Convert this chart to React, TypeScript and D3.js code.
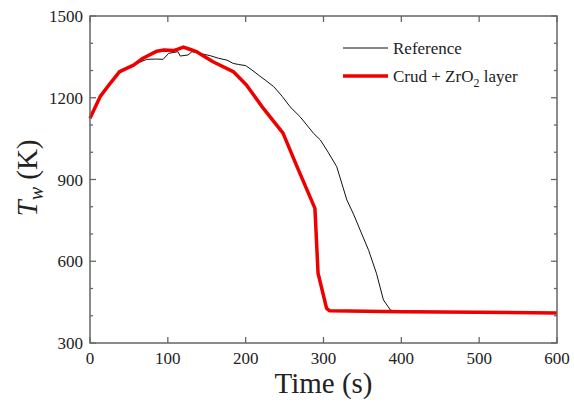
import React from "react"
import { scaleLinear, line, range } from "d3"

// Reference case: wall temperature (K) vs time (s)
const refTime = [0, 13, 26, 38, 50, 62, 73, 84, 94, 101, 113, 116, 126, 131, 144, 155, 165, 176, 184, 191, 200, 208, 218, 225, 236, 247, 257, 270, 287, 296, 306, 317, 330, 339, 347, 358, 368, 377, 386, 390, 500, 600]
const refTemp = [1125, 1204, 1250, 1290, 1312, 1328, 1341, 1342, 1341, 1363, 1369, 1353, 1357, 1369, 1361, 1354, 1345, 1338, 1326, 1322, 1318, 1302, 1280, 1265, 1241, 1205, 1167, 1130, 1070, 1045, 1000, 947, 825, 770, 715, 640, 556, 458, 421, 418, 414, 410]

// Crud + ZrO2 layer case
const crudTime = [0, 13, 26, 38, 56, 68, 86, 95, 107, 113, 120, 128, 137, 158, 184, 201, 223, 248, 266, 289, 293, 304, 308, 400, 500, 600]
const crudTemp = [1125, 1204, 1253, 1296, 1320, 1345, 1371, 1375, 1373, 1378, 1386, 1378, 1369, 1332, 1296, 1247, 1160, 1070, 947, 794, 556, 427, 418, 415, 413, 410]

const xTicks = [0, 100, 200, 300, 400, 500, 600]
const yTicks = [300, 600, 900, 1200, 1500]
const yMinor = range(300, 1501, 100).filter(v => v % 300 !== 0)

const font = "Liberation Serif, Times New Roman, serif"
const axisColor = "#666"

export default function App() {
	/** Chart dimensions */
	const width = 574
	const height = 403
	const left = 90
	const right = 557
	const top = 16
	const bottom = 343

	const xScale = scaleLinear().domain([0, 600]).range([left, right])
	const yScale = scaleLinear().domain([300, 1500]).range([bottom, top])

	/** build a path from paired time / temperature arrays */
	const path = (ts: number[], vs: number[]) =>
		line<number>()
			.x((_, i) => xScale(ts[i]))
			.y(d => yScale(d))(vs) ?? ""

	return (
		<svg width={width} height={height} style={{ position: "absolute", left: 0, top: 0, background: "#fff", fontFamily: font }}>
			{/* ticks, inward on all four sides */}
			<g stroke={axisColor} strokeWidth={1.3}>
				{xTicks.map(t => (
					<g key={"x" + t}>
						<line x1={xScale(t)} x2={xScale(t)} y1={bottom} y2={bottom - 6} />
						<line x1={xScale(t)} x2={xScale(t)} y1={top} y2={top + 6} />
					</g>
				))}
				{yTicks.map(t => (
					<g key={"y" + t}>
						<line x1={left} x2={left + 6} y1={yScale(t)} y2={yScale(t)} />
						<line x1={right} x2={right - 6} y1={yScale(t)} y2={yScale(t)} />
					</g>
				))}
				{yMinor.map(t => (
					<g key={"m" + t}>
						<line x1={left} x2={left + 3} y1={yScale(t)} y2={yScale(t)} />
						<line x1={right} x2={right - 3} y1={yScale(t)} y2={yScale(t)} />
					</g>
				))}
			</g>

			{/* tick labels */}
			{xTicks.map(t => (
				<text key={"xl" + t} x={xScale(t)} y={bottom + 21} textAnchor="middle" fontFamily={font} fontSize={17} fill="#222">{t}</text>
			))}
			{yTicks.map(t => (
				<text key={"yl" + t} x={left - 7} y={yScale(t) + 6} textAnchor="end" fontFamily={font} fontSize={17} fill="#222">{t}</text>
			))}

			<path d={path(refTime, refTemp)} fill="none" stroke="#111" strokeWidth={1} strokeLinejoin="round" />
			<path d={path(crudTime, crudTemp)} fill="none" stroke="#ee0000" strokeWidth={3.5} strokeLinejoin="round" />

			<rect x={left} y={top} width={right - left} height={bottom - top} fill="none" stroke={axisColor} strokeWidth={1.5} />

			{/* legend */}
			<line x1={343} x2={388} y1={48} y2={48} stroke="#111" strokeWidth={1} />
			<text x={393} y={54} fontFamily={font} fontSize={17} fill="#222">Reference</text>
			<line x1={343} x2={388} y1={76} y2={76} stroke="#ee0000" strokeWidth={3.5} />
			<text x={393} y={82} fontFamily={font} fontSize={17} fill="#222">
				Crud + ZrO<tspan fontSize={12} dy={5}>2</tspan><tspan dy={-5}> layer</tspan>
			</text>

			{/* axis titles */}
			<text x={(left + right) / 2} y={393} textAnchor="middle" fontFamily={font} fontSize={29} fill="#222">Time (s)</text>
			<text transform={`translate(37,178) rotate(-90)`} textAnchor="middle" fontFamily={font} fontSize={29} fill="#222">
				<tspan fontStyle="italic">T</tspan>
				<tspan fontStyle="italic" fontSize={20} dy={6}>w</tspan>
				<tspan dy={-6}> (K)</tspan>
			</text>
		</svg>
	)
}
